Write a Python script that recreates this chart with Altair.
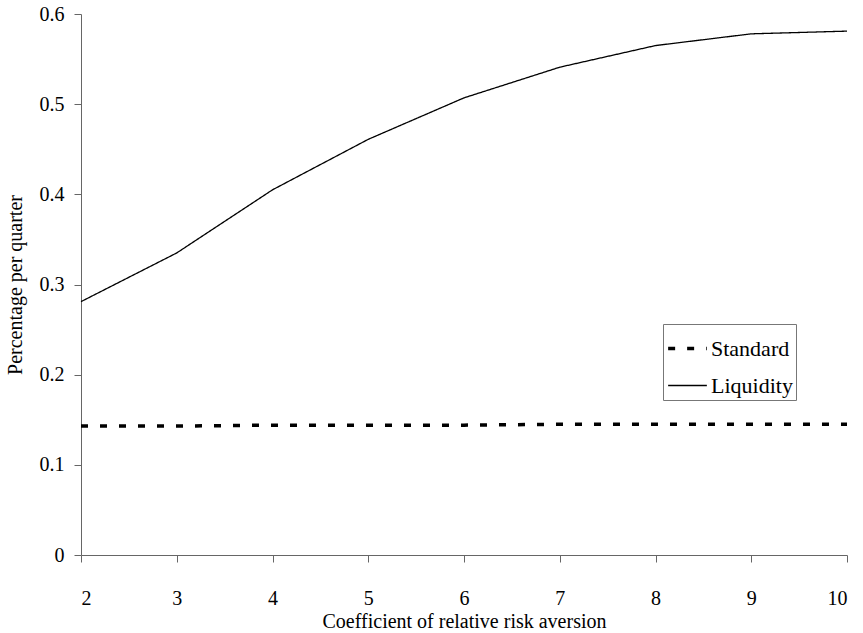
import altair as alt
import pandas as pd

rra = [2, 3, 4, 5, 6, 7, 8, 9, 10]
liquidity = [0.281, 0.335, 0.405, 0.461, 0.507, 0.541, 0.565, 0.578, 0.581]
standard = [0.143, 0.143, 0.144, 0.144, 0.144, 0.145, 0.145, 0.145, 0.145]
series_names = ["Standard", "Liquidity"]

rows = []
for x, s, l in zip(rra, standard, liquidity):
    rows.append({"x": x, "y": s, "series": "Standard"})
    rows.append({"x": x, "y": l, "series": "Liquidity"})
df = pd.DataFrame(rows)

FONT = "Liberation Serif"

leg = alt.Legend(title=None, orient="none", legendX=582, legendY=310)

chart = alt.Chart(df).mark_line(color="black").encode(
    x=alt.X("x:Q", scale=alt.Scale(domain=[2, 10], nice=False),
            axis=alt.Axis(values=rra, title="Coefficient of relative risk aversion",
                          grid=False, tickSize=7, labelPadding=26, titlePadding=3)),
    y=alt.Y("y:Q", scale=alt.Scale(domain=[0, 0.6], nice=False),
            axis=alt.Axis(values=[0, 0.1, 0.2, 0.3, 0.4, 0.5, 0.6], format=".1~f",
                          title="Percentage per quarter", grid=False, tickSize=7,
                          labelPadding=10, titlePadding=14)),
    strokeDash=alt.StrokeDash("series:N",
                              scale=alt.Scale(domain=series_names, range=[[7, 12], [1, 0]]),
                              legend=leg),
    strokeWidth=alt.StrokeWidth("series:N",
                                scale=alt.Scale(domain=series_names, range=[3.5, 1.3]),
                                legend=leg),
).properties(
    width=766, height=541,
    autosize=alt.AutoSizeParams(type="none"),
    padding={"left": 81, "top": 14, "right": 16, "bottom": 78},
).configure(font=FONT).configure_view(stroke=None).configure_axis(
    labelFont=FONT, titleFont=FONT, labelFontSize=20, titleFontSize=20,
    labelColor="black", titleColor="black", titleFontWeight="normal",
    domainColor="#666", tickColor="#666",
).configure_legend(
    labelFont=FONT, labelFontSize=22, labelColor="black",
    strokeColor="#777", padding=3, symbolType="stroke", symbolSize=1500,
    symbolStrokeColor="black", rowPadding=5, labelOffset=2,
)

chart.save("out.html", embed_options={"renderer": "svg", "actions": False})
